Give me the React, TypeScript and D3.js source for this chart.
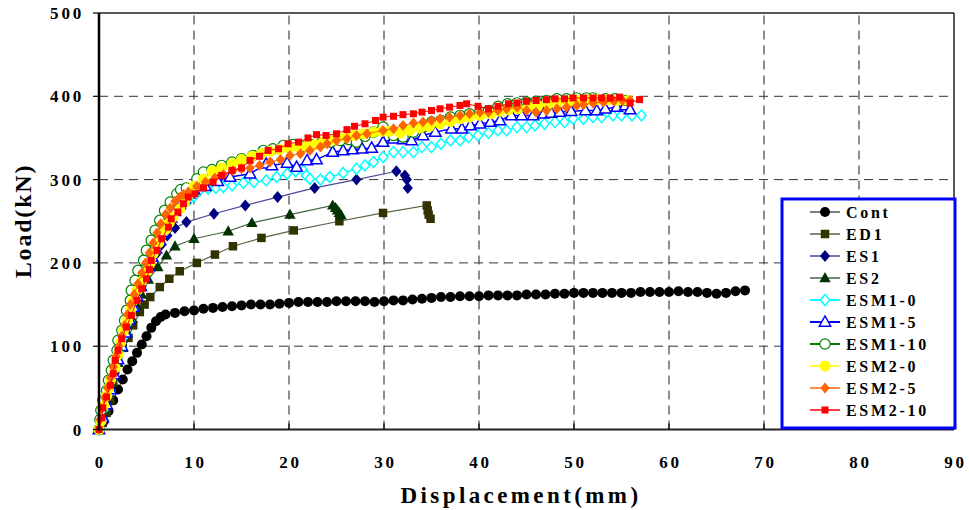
import React from "react";
import * as d3 from "d3";

type P = [number, number];

const xTicks = [0, 10, 20, 30, 40, 50, 60, 70, 80, 90];
const yTicks = [0, 100, 200, 300, 400, 500];

const seriesNames = ["Cont", "ED1", "ES1", "ES2", "ESM1-0", "ESM1-5", "ESM1-10", "ESM2-0", "ESM2-5", "ESM2-10"];

const contData: P[] = [[0,0],[0.5,10],[1,22],[1.5,35],[2,48],[2.5,60],[3,72],[3.5,82],[4,92],[4.5,102],[5,112],[5.5,122],[6,130],[6.5,135],[7,138],[8,140],[9,142],[10,143],[11,145],[12,146],[13,147],[14,148],[15,149],[16,150],[17,150],[18,150],[19,151],[20,152],[21,153],[22,153],[23,153],[24,153],[25,154],[26,154],[27,154],[28,154],[29,153],[30,154],[31,155],[32,155],[33,156],[34,157],[35,158],[36,159],[37,159],[38,160],[39,160],[40,160],[41,161],[42,161],[43,161],[44,161],[45,162],[46,162],[47,162],[48,163],[49,163],[50,164],[51,164],[52,164],[53,164],[54,164],[55,164],[56,164],[57,165],[58,165],[59,165],[60,165],[61,166],[62,165],[63,165],[64,164],[65,163],[66,164],[67,166],[68,167]];

const ed1Data: P[] = [[0,0],[0.4,8],[0.8,20],[1.2,35],[1.5,56],[1.7,71],[2.0,83],[2.5,98],[3.1,110],[3.6,125],[4.3,141],[4.8,150],[5.4,159],[6.4,171],[7.4,181],[8.5,190],[10.3,200],[12.2,210],[14.1,220],[17.1,230],[20.5,239],[25.3,250],[29.9,260],[34.5,269],[34.6,263],[34.7,258],[34.9,253]];

const es1Data: P[] = [[0,0],[0.4,15],[0.8,32],[1.2,50],[1.6,68],[2,86],[2.5,105],[3,124],[3.5,142],[4,158],[4.5,172],[5,186],[5.5,198],[6,210],[6.6,222],[7.2,233],[8,242],[9.2,249],[12.1,259],[15.4,269],[18.8,279],[22.7,290],[27.1,300],[31.3,310],[32.2,305],[32.4,300],[32.5,290]];

const es2Data: P[] = [[0,0],[0.4,14],[0.8,30],[1.2,48],[1.6,64],[2,80],[2.5,98],[3,116],[3.5,133],[4,149],[4.5,162],[5.2,180],[6.2,195],[7.1,209],[8,220],[10,229],[13.6,238],[16.1,248],[20.1,258],[24.6,269],[24.9,266],[25.1,263],[25.3,260],[25.5,257]];

const esm10Data: P[] = [[0,0],[0.4,12],[0.8,28],[1.2,46],[1.6,64],[2,82],[2.4,98],[2.8,114],[3.2,130],[3.6,145],[4,158],[4.4,170],[4.8,182],[5.2,194],[5.6,205],[6,215],[6.4,225],[6.8,235],[7.2,244],[7.6,252],[8,260],[8.5,267],[9,272],[9.5,276],[10,280],[10.6,287],[11.5,289],[12.3,290],[13.1,291],[14,293],[15.2,296],[16.3,297],[17.6,299],[18.7,303],[19.8,307],[20.7,310],[21.5,311],[21.8,305],[22.2,301],[23.3,300],[24.3,303],[25.7,308],[27.1,313],[28,317],[28.9,321],[29.9,327],[31,333],[32,333],[33.1,333],[34,339],[35,339],[36,343],[37,347],[38,347],[38.9,351],[39.9,353],[41,356],[42,359],[42.9,359],[44,363],[45,363],[45.9,365],[46.9,367],[48,369],[49,369],[49.9,373],[51,373],[52,375],[52.9,375],[54.1,377],[55,377],[56.1,377],[57.1,377]];

const esm15Data: P[] = [[0,0],[0.4,14],[0.8,30],[1.2,48],[1.6,66],[2,84],[2.4,100],[2.8,116],[3.2,132],[3.6,147],[4,160],[4.4,172],[4.8,184],[5.2,196],[5.6,207],[6,217],[6.4,227],[6.8,237],[7.2,246],[7.6,254],[8,262],[8.5,270],[9,277],[9.5,283],[10,288],[11.2,292],[12.5,298],[13.8,303],[15.9,307],[17.6,319],[18.2,317],[19.8,320],[20.8,315],[21.9,323],[22.9,324],[24.6,333],[25.7,335],[26.7,336],[27.7,337],[28.7,338],[29.9,345],[31,349],[32,348],[32.9,347],[34.1,353],[35.4,357],[37.1,361],[38.2,361],[39.1,365],[40.1,367],[41.2,369],[42.2,371],[43.4,377],[44.5,377],[45.7,377],[46.8,379],[47.6,380],[48.5,381],[49.7,382],[51.2,383],[52.4,383],[53.3,385],[54.5,387],[55.4,389],[55.9,384]];

const esm110Data: P[] = [[0,0],[0.1,12],[0.2,23],[0.4,35],[0.8,47],[1,59],[1.3,71],[1.5,83],[1.9,95],[2,107],[2.4,119],[2.7,131],[2.9,143],[3.3,155],[3.4,167],[3.8,179],[4.1,191],[4.7,203],[5,215],[5.5,227],[5.9,239],[6.4,251],[6.9,263],[7.5,273],[8.2,283],[8.6,288],[9.2,290],[10.3,301],[11,309],[11.9,312],[12.9,317],[14,321],[15,325],[16.2,329],[17.3,335],[18.3,337],[19.4,341],[20.4,342],[21.4,340],[22.4,342],[23.4,344],[24.4,345],[25.4,347],[26.3,348],[27.1,345],[28,352],[28.9,357],[29.9,363],[31,353],[32,351],[33.1,357],[34.1,363],[35,369],[36,371],[37,375],[38,377],[39,379],[40.1,381],[41,383],[42,388],[43,391],[44,392],[45,393],[46,394],[47.1,395],[48.2,397],[49.2,397],[50.3,398],[51.3,398],[52,398],[53.3,397],[54.3,397],[55.5,395]];

const esm20Data: P[] = [[0,0],[0.2,10],[0.5,29],[0.8,40],[1,49],[1.2,59],[1.7,74],[2,90],[2.3,105],[2.6,119],[3,131],[3.3,143],[3.6,155],[4,167],[4.5,178],[5,189],[5.4,200],[5.7,211],[6.3,224],[7,240],[7.4,248],[7.8,255],[8.5,265],[9,273],[9.4,281],[10,292],[11,301],[11.9,310],[12.9,314],[14,319],[15,324],[16.1,328],[17.1,331],[18,334],[19,336],[20,338],[21,339],[21.8,340],[22.7,342],[23.6,345],[24.8,348],[25.9,351],[26.8,353],[27.8,355],[28.9,357],[29.8,358],[30.6,358],[31.7,356],[32.7,359],[33.8,362],[34.8,364],[35.9,367],[37,370],[38,373],[39,375],[40.1,377],[41.2,379],[42.2,382],[43.1,384],[44.1,385],[45.2,387],[46.2,389],[47.3,391],[48.3,393],[49.4,394],[50.4,395],[51.5,396],[52.5,396],[53.6,396],[54.6,395],[55.7,395]];

const esm25Data: P[] = [[0,0],[0.1,12],[0.3,25],[0.6,38],[0.9,50],[1.2,62],[1.5,75],[1.8,88],[2.1,100],[2.4,112],[2.7,125],[3,138],[3.3,150],[3.7,162],[4.1,175],[4.5,188],[4.9,200],[5.3,212],[5.7,224],[6.1,236],[6.5,247],[7,258],[7.5,266],[8,274],[8.5,279],[8.9,282],[9.4,285],[10.3,292],[11.2,297],[12.2,302],[13.1,306],[14.1,311],[15,313],[15.9,314],[16.9,317],[18,321],[19.1,324],[20.1,329],[21.2,331],[22.2,335],[23.3,339],[24,343],[25,347],[26.1,349],[27.1,353],[28.2,355],[29.9,359],[31,361],[32,365],[33.1,368],[34.1,369],[35,371],[35.9,373],[36.9,375],[38,377],[39,379],[40.1,381],[41,381],[42,383],[42.9,385],[44,387],[45,383],[46,381],[47.1,383],[48.2,385],[49.2,387],[50.3,389],[51,390],[52,392],[53.1,393],[54.2,394],[55.1,395],[55.9,395]];

const esm210Data: P[] = [[0,0],[0.3,14],[0.4,26],[0.8,39],[1.2,53],[1.5,67],[1.7,83],[2,95],[2.4,109],[2.9,123],[3.4,137],[4,155],[4.5,169],[5,181],[5.3,192],[5.5,203],[6.1,215],[6.6,229],[7.3,243],[7.6,253],[8.3,261],[8.9,271],[9.4,279],[10.1,283],[11,290],[12,297],[12.9,305],[14,311],[15,314],[15.9,323],[16.9,328],[17.8,335],[18.9,337],[19.9,343],[21,345],[22,350],[22.9,354],[23.9,353],[25,355],[26.1,360],[26.9,364],[28,367],[29.1,371],[29.9,375],[31,376],[32,378],[33.1,379],[34,381],[35,383],[35.9,385],[36.9,387],[38,389],[38.7,391],[39.9,388],[41,385],[42,388],[43.1,391],[44,392],[45,394],[46,395],[47.1,396],[48,397],[49,397],[49.9,398],[51,398],[52,398],[52.9,398],[53.8,398],[54.8,399],[55.9,392],[56.9,396]];

const seriesData: P[][] = [contData, ed1Data, es1Data, es2Data, esm10Data, esm15Data, esm110Data, esm20Data, esm25Data, esm210Data];

type Style = { shape: string; fill: string; stroke: string; line: string; lw: number; size: number; sw: number };
const styles: Style[] = [
  { shape: "circle", fill: "#000000", stroke: "#000000", line: "#555555", lw: 1.2, size: 5, sw: 0 },
  { shape: "square", fill: "#333300", stroke: "#333300", line: "#556644", lw: 1.2, size: 8.5, sw: 0 },
  { shape: "diamond", fill: "#000080", stroke: "#000080", line: "#4a4a99", lw: 1.2, size: 6, sw: 0 },
  { shape: "triangle", fill: "#003300", stroke: "#003300", line: "#446644", lw: 1.2, size: 6, sw: 0 },
  { shape: "diamond", fill: "#ffffff", stroke: "#00ffff", line: "#00ffff", lw: 1.5, size: 5.5, sw: 1.5 },
  { shape: "triangle", fill: "#ffffff", stroke: "#0000ff", line: "#0000ff", lw: 1.5, size: 6, sw: 1.5 },
  { shape: "circle", fill: "#ffffff", stroke: "#008000", line: "#008000", lw: 1.5, size: 5.2, sw: 1.2 },
  { shape: "circle", fill: "#ffff00", stroke: "#ffff00", line: "#ffff00", lw: 1, size: 5.5, sw: 0 },
  { shape: "diamond", fill: "#ff6600", stroke: "#ff6600", line: "#ff6600", lw: 1, size: 5.5, sw: 0 },
  { shape: "square", fill: "#ff0000", stroke: "#ff0000", line: "#ff0000", lw: 1, size: 7, sw: 0 },
];

function markerPath(shape: string, s: number): string {
  if (shape === "circle") return `M${-s},0A${s},${s} 0 1,0 ${s},0A${s},${s} 0 1,0 ${-s},0Z`;
  if (shape === "square") { const h = s / 2; return `M${-h},${-h}H${h}V${h}H${-h}Z`; }
  if (shape === "diamond") return `M0,${-s}L${s * 0.85},0L0,${s}L${-s * 0.85},0Z`;
  return `M0,${-s}L${s * 0.95},${s * 0.7}L${-s * 0.95},${s * 0.7}Z`;
}

const W = 969, H = 510;
const x = d3.scaleLinear().domain([0, 90]).range([99, 954]);
const y = d3.scaleLinear().domain([0, 500]).range([429.5, 13]);
const serif = "'Liberation Serif', 'Times New Roman', serif";

export default function App() {
  const line = d3.line<P>().x(d => x(d[0])).y(d => y(d[1]));
  const lx = 782, ly = 199, lw = 173, lh = 229;
  return (
    <svg width={W} height={H} style={{ position: "absolute", left: 0, top: 0, background: "#fff" }} fontFamily={serif}>
      <rect x={0} y={0} width={W} height={H} fill="#fff" />
      {yTicks.filter(t => t > 0 && t < 500).map(t => (
        <line key={"gy" + t} x1={x(0)} x2={x(90)} y1={y(t)} y2={y(t)} stroke="#333" strokeWidth={1} strokeDasharray="9,6" />
      ))}
      {xTicks.filter(t => t > 0 && t < 90).map(t => (
        <line key={"gx" + t} x1={x(t)} x2={x(t)} y1={y(0)} y2={y(500)} stroke="#444" strokeWidth={1.2} strokeDasharray="9,6" />
      ))}
      <line x1={x(0)} x2={x(90)} y1={y(500)} y2={y(500)} stroke="#222" strokeWidth={1.5} />
      <line x1={x(90)} x2={x(90)} y1={y(500)} y2={y(0)} stroke="#222" strokeWidth={1.5} />
      {seriesData.map((data, i) => {
        const st = styles[i];
        return (
          <g key={seriesNames[i]}>
            <path d={line(data) || ""} fill="none" stroke={st.line} strokeWidth={st.lw} />
            {data.map((d, j) => (
              <path key={j} transform={`translate(${x(d[0])},${y(d[1])})`} d={markerPath(st.shape, st.size)}
                fill={st.fill} stroke={st.sw > 0 ? st.stroke : "none"} strokeWidth={st.sw} />
            ))}
          </g>
        );
      })}
      <line x1={x(0)} x2={x(0)} y1={y(0) + 1} y2={y(500)} stroke="#000" strokeWidth={2.5} />
      <line x1={x(0)} x2={x(90)} y1={y(0)} y2={y(0)} stroke="#222" strokeWidth={2} />
      {yTicks.map(t => (
        <g key={"yt" + t}>
          <line x1={x(0) - 6} x2={x(0)} y1={y(t)} y2={y(t)} stroke="#000" strokeWidth={1.2} />
          <text x={84} y={y(t) + 6} textAnchor="end" fontSize={17} fontWeight="bold" letterSpacing={2.8}>{t}</text>
        </g>
      ))}
      {xTicks.map(t => (
        <g key={"xt" + t}>
          <line x1={x(t)} x2={x(t)} y1={y(0) - 6} y2={y(0)} stroke="#000" strokeWidth={1.2} />
          <text x={x(t) + 1.5} y={468} textAnchor="middle" fontSize={17} fontWeight="bold" letterSpacing={2.8}>{t}</text>
        </g>
      ))}
      <text x={521} y={503} textAnchor="middle" fontSize={23} fontWeight="bold" letterSpacing={3.4}>Displacement(mm)</text>
      <text transform={`translate(31,221) rotate(-90)`} textAnchor="middle" fontSize={24} fontWeight="bold" letterSpacing={1.8}>Load(kN)</text>
      <rect x={lx} y={ly} width={lw} height={lh} fill="#fff" stroke="#0000ff" strokeWidth={3} />
      {seriesNames.map((name, i) => {
        const st = styles[i];
        const cy = 212 + i * 22;
        return (
          <g key={"lg" + name}>
            <line x1={810} x2={840} y1={cy} y2={cy} stroke={st.line} strokeWidth={i >= 4 && i <= 6 ? 2 : 1.5} />
            <path transform={`translate(825,${cy})`} d={markerPath(st.shape, st.size)} fill={st.fill}
              stroke={st.sw > 0 ? st.stroke : "none"} strokeWidth={st.sw} />
            <text x={846} y={cy + 6} fontSize={16} fontWeight="bold" letterSpacing={2.7}>{name}</text>
          </g>
        );
      })}
    </svg>
  );
}
